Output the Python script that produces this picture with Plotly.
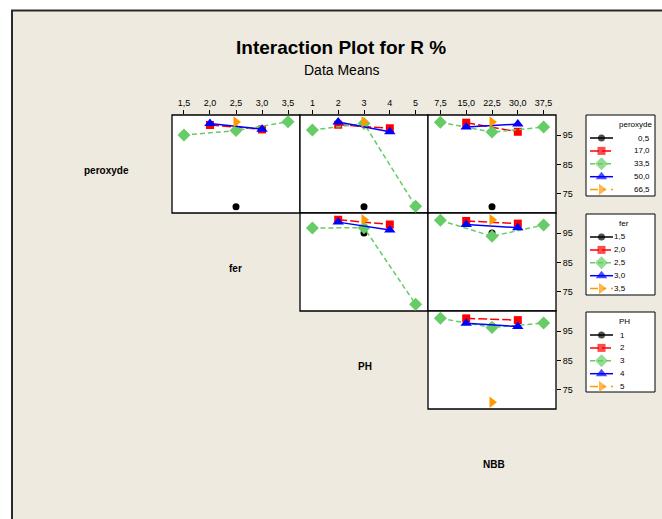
import plotly.graph_objects as go

W, H = 662, 519

# ---- factor levels and tick labels -------------------------------------
peroxyde_levels = [0.5, 17.0, 33.5, 50.0, 66.5]
fer_levels = [1.5, 2.0, 2.5, 3.0, 3.5]
ph_levels = [1, 2, 3, 4, 5]
nbb_levels = [7.5, 15.0, 22.5, 30.0, 37.5]

peroxyde_labels = ["0,5", "17,0", "33,5", "50,0", "66,5"]
fer_labels = ["1,5", "2,0", "2,5", "3,0", "3,5"]
ph_labels = ["1", "2", "3", "4", "5"]
nbb_labels = ["7,5", "15,0", "22,5", "30,0", "37,5"]

# ---- mean R % : one row per level of the legend factor,
#      one column per level of the x factor (None = no run) --------------
peroxyde_by_fer = [
    [None, None, 70.6, None, None],
    [None, 98.4, None, 96.9, None],
    [95.0, None, 96.5, None, 99.5],
    [None, 98.9, None, 97.0, None],
    [None, None, 99.4, None, None],
]
peroxyde_by_ph = [
    [None, None, 70.6, None, None],
    [None, 98.5, None, 97.3, None],
    [96.7, None, 98.9, None, 70.8],
    [None, 99.4, None, 96.1, None],
    [None, None, 99.4, None, None],
]
peroxyde_by_nbb = [
    [None, None, 70.6, None, None],
    [None, 99.2, None, 96.1, None],
    [99.3, None, 96.0, None, 97.7],
    [None, 97.7, None, 98.7, None],
    [None, None, 99.4, None, None],
]
fer_by_ph = [
    [None, None, 95.0, None, None],
    [None, 99.5, None, 97.9, None],
    [96.7, None, 96.8, None, 70.8],
    [None, 98.7, None, 96.0, None],
    [None, None, 99.5, None, None],
]
fer_by_nbb = [
    [None, None, 95.0, None, None],
    [None, 99.1, None, 98.2, None],
    [99.3, None, 93.9, None, 97.7],
    [None, 97.9, None, 96.8, None],
    [None, None, 99.5, None, None],
]
ph_by_nbb = [
    [None, None, 96.7, None, None],
    [None, 99.3, None, 98.7, None],
    [99.3, None, 96.2, None, 97.7],
    [None, 97.6, None, 96.5, None],
    [None, None, 70.8, None, None],
]

y_ticks = [75, 85, 95]
y_range = [68.5, 101.8]

# ---- styling ------------------------------------------------------------
FONT = "Liberation Sans, Arial, sans-serif"
BEIGE = "#EEEAE0"
colors = ["#000000", "#FF0000", "#66CC66", "#0000FF", "#FF9900"]
symbols = ["circle", "square", "diamond", "triangle-up", "triangle-right"]
sizes = [7, 8, 10, 10, 10]
dashes = ["solid", "9px,3px", "5px,3px", "solid", "8px,5px,3px,5px"]

# panel grid (pixel edges)
CX = [172, 300, 428, 556]
RY = [115, 213, 311, 409]


def fx(x):
    return x / W


def fy(y):
    return 1 - y / H


x_factors = [
    (fer_levels, fer_labels, [1.27, 3.73]),
    (ph_levels, ph_labels, [0.52, 5.48]),
    (nbb_levels, nbb_labels, [3.9, 41.1]),
]

panels = [
    (0, 0, peroxyde_by_fer),
    (0, 1, peroxyde_by_ph),
    (0, 2, peroxyde_by_nbb),
    (1, 1, fer_by_ph),
    (1, 2, fer_by_nbb),
    (2, 2, ph_by_nbb),
]

fig = go.Figure()
layout = {}
shapes = []

# page background with frame
shapes.append(dict(type="rect", xref="paper", yref="paper",
                   x0=fx(12), x1=fx(720), y0=fy(10.5), y1=fy(580),
                   fillcolor=BEIGE, line=dict(color="#2a2a2a", width=2),
                   layer="below"))

axis_base = dict(showline=False, showgrid=False, zeroline=False)

for k, (r, c, table) in enumerate(panels, start=1):
    levels, labels, xr = x_factors[c]
    xa = dict(axis_base, domain=[fx(CX[c]), fx(CX[c + 1])], range=xr,
              anchor=f"y{k}")
    if r == 0:
        xa.update(side="top", ticks="outside", ticklen=4, tickcolor="black",
                  tickwidth=1, tickvals=levels, ticktext=labels,
                  tickfont=dict(family=FONT, size=9, color="black"))
    else:
        xa.update(showticklabels=False, ticks="")
    ya = dict(axis_base, domain=[fy(RY[r + 1]), fy(RY[r])], range=y_range,
              anchor=f"x{k}")
    if c == 2:
        ya.update(side="right", ticks="outside", ticklen=4, tickcolor="black",
                  tickwidth=1, tickvals=y_ticks,
                  tickfont=dict(family=FONT, size=9, color="black"))
    else:
        ya.update(showticklabels=False, ticks="")
    sfx = "" if k == 1 else str(k)
    layout["xaxis" + sfx] = xa
    layout["yaxis" + sfx] = ya

    # white plotting area with a thin black frame
    shapes.append(dict(type="rect", xref=f"x{sfx} domain", yref=f"y{sfx} domain",
                       x0=0, x1=1, y0=0, y1=1, fillcolor="white",
                       line=dict(color="black", width=1.3), layer="below"))

    for li, row in enumerate(table):
        xs = [levels[i] for i, v in enumerate(row) if v is not None]
        ys = [v for v in row if v is not None]
        fig.add_trace(go.Scatter(
            x=xs, y=ys, xaxis=f"x{sfx}", yaxis=f"y{sfx}",
            mode="lines+markers", showlegend=False, cliponaxis=False,
            line=dict(color=colors[li], width=1.5, dash=dashes[li]),
            marker=dict(color=colors[li], symbol=symbols[li], size=sizes[li],
                        line=dict(width=0)),
        ))

# ---- legend boxes (drawn on a full-page overlay axis) -------------------
ov = len(panels) + 1
layout[f"xaxis{ov}"] = dict(domain=[0, 1], range=[0, W], visible=False,
                            anchor=f"y{ov}", fixedrange=True)
layout[f"yaxis{ov}"] = dict(domain=[0, 1], range=[H, 0], visible=False,
                            anchor=f"x{ov}", fixedrange=True)

legends = [
    ("peroxyde", peroxyde_labels, 115, 196, 652),
    ("fer", fer_labels, 214, 295, 628),
    ("PH", ph_labels, 312, 392, 627),
]

annotations = []
for title, labels, top, bottom, label_right in legends:
    shapes.append(dict(type="rect", xref="paper", yref="paper",
                       x0=fx(586), x1=fx(655), y0=fy(bottom), y1=fy(top),
                       fillcolor="white", line=dict(color="black", width=1),
                       layer="below"))
    annotations.append(dict(text=title, x=fx(617), y=fy(top + 9.5),
                            xref="paper", yref="paper", xanchor="left",
                            yanchor="middle", showarrow=False,
                            font=dict(family=FONT, size=8, color="black")))
    for li, lab in enumerate(labels):
        yy = top + 23 + li * 12.9
        fig.add_trace(go.Scatter(
            x=[590, 601.5, 613], y=[yy, yy, yy], xaxis=f"x{ov}", yaxis=f"y{ov}",
            mode="lines+markers", showlegend=False, cliponaxis=False,
            line=dict(color=colors[li], width=1.5, dash=dashes[li]),
            marker=dict(color=colors[li], symbol=symbols[li],
                        size=[0, sizes[li], 0], line=dict(width=0)),
        ))
        annotations.append(dict(text=lab, x=fx(label_right), y=fy(yy),
                                xref="paper", yref="paper", xanchor="right",
                                yanchor="middle", showarrow=False,
                                font=dict(family=FONT, size=8, color="black")))

# ---- titles and factor names on the diagonal ---------------------------
annotations.append(dict(text="<b>Interaction Plot for R %</b>", x=fx(341), y=fy(47),
                        xref="paper", yref="paper", xanchor="center",
                        yanchor="middle", showarrow=False,
                        font=dict(family=FONT, size=19, color="black")))
annotations.append(dict(text="Data Means", x=fx(341), y=fy(70),
                        xref="paper", yref="paper", xanchor="center",
                        yanchor="middle", showarrow=False,
                        font=dict(family=FONT, size=14, color="black")))

factor_names = [("peroxyde", 106, 170), ("fer", 236, 268),
                ("PH", 365, 366), ("NBB", 494, 464)]
for name, x, y in factor_names:
    annotations.append(dict(text=f"<b>{name}</b>", x=fx(x), y=fy(y),
                            xref="paper", yref="paper", xanchor="center",
                            yanchor="middle", showarrow=False,
                            font=dict(family=FONT, size=10, color="black")))

fig.update_layout(
    width=W, height=H, autosize=False,
    margin=dict(l=0, r=0, t=0, b=0, pad=0),
    paper_bgcolor="white", plot_bgcolor="rgba(0,0,0,0)",
    shapes=shapes, annotations=annotations, showlegend=False,
    **layout,
)

fig.write_html("out.html")
